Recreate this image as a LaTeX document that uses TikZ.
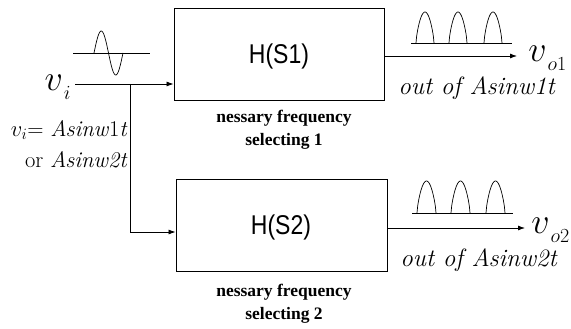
\documentclass[tikz,border=0pt]{standalone}
\usepackage{fix-cm}
\usepackage{fontspec}
\newfontfamily\hsans{Liberation Sans}
\newfontfamily\nserif{Liberation Serif}
\usetikzlibrary{arrows.meta}
\newcommand{\bigv}[1]{{\fontsize{36}{36}\selectfont$v$}\kern1pt\raisebox{-9pt}{\fontsize{20}{20}\selectfont#1}}
\begin{document}
\begin{tikzpicture}[x=1pt,y=-1pt,
  line width=0.8pt,
  blk/.style={draw,rectangle,line width=0.9pt,inner sep=0pt},
  arr/.style={-{Latex[length=7pt,width=5pt]}},
  htext/.style={font=\hsans\fontsize{23}{24}\selectfont,yscale=1.18},
  note/.style={font=\nserif\bfseries\fontsize{17.5}{23}\selectfont,align=center},
  outlbl/.style={font=\itshape\fontsize{25}{28}\selectfont,inner sep=0pt},
  vlbl/.style={inner sep=0pt}]
\useasboundingbox (0,0) rectangle (571,329);
% blocks
\node[blk,minimum width=210pt,minimum height=92pt] (b1) at (279,54) {};
\node[htext] (h1) at (279,56) {H(S1)};
\node[blk,minimum width=211pt,minimum height=92pt] (b2) at (281.5,225.5) {};
\node[htext] (h2) at (281,227) {H(S2)};
\node[note] (n1) at (284,130) {nessary frequency\\selecting 1};
\node[note] (n2) at (284,304) {nessary frequency\\selecting 2};
% input
\coordinate (in) at (75,84);
\coordinate (br) at (130,84);
\coordinate (dn) at (130,232);
\node[vlbl,anchor=east] (vi) at (71,87) {\bigv{$i$}};
\draw[arr] (in) -- (in -| b1.west);
\draw[arr] (br) -- (dn) -- (dn -| b2.west);
% sine
\coordinate (ax1) at (73,53);
\coordinate (ax2) at (150,53);
\draw[line width=0.7pt] (ax1) -- (ax2);
\draw[line width=0.7pt,domain=0:360,samples=60,smooth] plot ({94+\x/360*29},{53-22*sin(\x)});
% input formula
\node[font=\fontsize{22.5}{31}\selectfont,anchor=east,align=right,inner sep=0pt] (f) at (128,144)
  {$v_i$= \textit{Asinw}1\textit{t}\\ or \textit{Asinw2t}};
% outputs
\coordinate (o1) at (517,56);
\coordinate (o2) at (525,228);
\draw[arr] (b1.east |- o1) -- (o1);
\draw[arr] (b2.east |- o2) -- (o2);
\node[vlbl,anchor=west] (vo1) at (528,58) {\bigv{$o$1}};
\node[vlbl,anchor=west] (vo2) at (531,230) {\bigv{$o2$}};
\node[outlbl,anchor=west] (ol1) at (398,88) {out of \textit{Asinw}1\textit{t}};
\node[outlbl,anchor=west] (ol2) at (400,260) {out of \textit{Asinw2t}};
% pulses 1
\draw[line width=0.7pt] (411,43) -- (512,43);
\foreach \s in {416,449,484}
  \draw[line width=0.7pt,domain=0:180,samples=30,smooth] plot ({\s+\x/180*18},{43-31*sin(\x)^0.7});
% pulses 2
\draw[line width=0.7pt] (412,213) -- (513,213);
\foreach \s in {417,451,486}
  \draw[line width=0.7pt,domain=0:180,samples=30,smooth] plot ({\s+\x/180*19},{213-32*sin(\x)^0.7});
\end{tikzpicture}
\end{document}
